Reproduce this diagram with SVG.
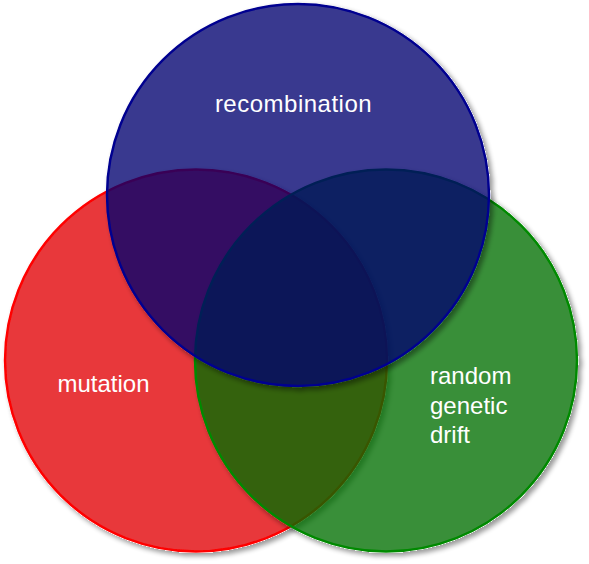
<svg xmlns="http://www.w3.org/2000/svg" width="589" height="564" viewBox="0 0 589 564">
<defs>
<filter id="sh" x="-5%" y="-5%" width="115%" height="115%">
<feColorMatrix in="SourceAlpha" type="matrix" values="0 0 0 0 0 0 0 0 0 0 0 0 0 0 0 0 0 0 20 0" result="a"/>
<feGaussianBlur in="a" stdDeviation="2.5" result="b"/>
<feOffset in="b" dx="3" dy="3" result="o"/>
<feComposite in="o" in2="a" operator="out" result="os"/>
<feComponentTransfer in="os" result="s"><feFuncA type="linear" slope="0.4"/></feComponentTransfer>
<feMerge><feMergeNode in="s"/><feMergeNode in="SourceGraphic"/></feMerge>
</filter>
</defs>
<style>
.c{stroke-width:2.5;filter:url(#sh)}
.t{font-family:"Liberation Sans",Arial,sans-serif;font-size:24px;fill:#ffffff}
</style>
<rect width="589" height="564" fill="#ffffff"/>
<g id="mutation">
<circle class="c" cx="196" cy="360.5" r="191" fill="#e8393b" stroke="#ff0000"/>
</g>
<g id="drift">
<circle class="c" cx="386" cy="360.5" r="191" fill="rgb(0,111,3)" fill-opacity="0.776" stroke="#008a00"/>
</g>
<g id="recombination">
<circle class="c" cx="298" cy="195" r="191" fill="rgb(0,0,110)" fill-opacity="0.776" stroke="#000090"/>
</g>
<g id="labels">
<text class="t" x="293.5" y="111.5" text-anchor="middle" letter-spacing="0.5">recombination</text>
<text class="t" x="103.5" y="391.5" text-anchor="middle">mutation</text>
<text class="t" x="430" y="384">random</text>
<text class="t" x="430" y="413.5">genetic</text>
<text class="t" x="430" y="443">drift</text>
</g>
<g id="connectors"/>
</svg>
